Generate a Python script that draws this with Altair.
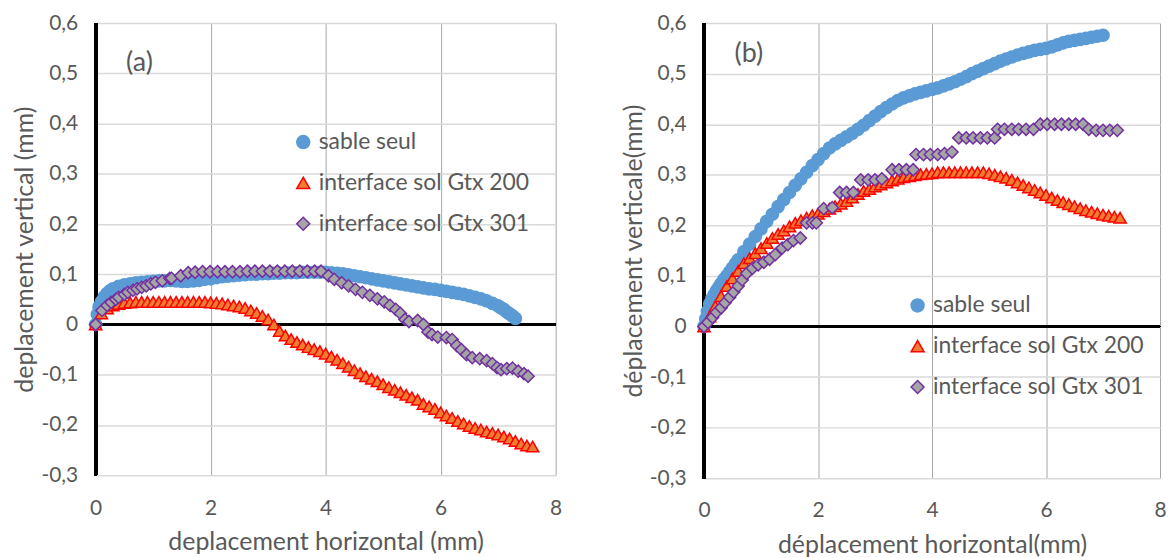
import altair as alt
import pandas as pd

SERIES = ["sable seul", "interface sol Gtx 200", "interface sol Gtx 301"]

# ---------------- Panel (a) ----------------
a_sable_x = [0, 0.03, 0.06, 0.1, 0.15, 0.2, 0.25, 0.3, 0.4, 0.5, 0.6, 0.7, 0.8, 0.9, 1.0, 1.1, 1.2, 1.3, 1.4, 1.5,
             1.6, 1.7, 1.8, 1.9, 2.0, 2.1, 2.2, 2.3, 2.4, 2.5, 2.6, 2.7, 2.8, 2.9, 3.0, 3.1, 3.2, 3.3, 3.4, 3.5,
             3.6, 3.7, 3.8, 3.9, 4.0, 4.1, 4.2, 4.3, 4.4, 4.5, 4.6, 4.7, 4.8, 4.9, 5.0, 5.1, 5.2, 5.3, 5.4, 5.5,
             5.6, 5.7, 5.8, 5.9, 6.0, 6.1, 6.2, 6.3, 6.4, 6.5, 6.6, 6.7, 6.8, 6.9, 7.0, 7.05, 7.1, 7.15, 7.2, 7.25, 7.3]
a_sable_y = [0, 0.02, 0.035, 0.045, 0.055, 0.062, 0.067, 0.071, 0.076, 0.079, 0.081, 0.083, 0.084, 0.085, 0.086,
             0.087, 0.087, 0.088, 0.087, 0.086, 0.086, 0.087, 0.088, 0.09, 0.091, 0.093, 0.095, 0.096, 0.097, 0.098,
             0.099, 0.1, 0.1, 0.101, 0.101, 0.102, 0.102, 0.103, 0.103, 0.103, 0.104, 0.104, 0.104, 0.104, 0.104,
             0.103, 0.102, 0.101, 0.099, 0.097, 0.095, 0.093, 0.091, 0.089, 0.087, 0.085, 0.083, 0.081, 0.079, 0.077,
             0.075, 0.073, 0.071, 0.07, 0.068, 0.066, 0.064, 0.062, 0.06, 0.057, 0.054, 0.051, 0.047, 0.042, 0.037,
             0.033, 0.03, 0.025, 0.021, 0.017, 0.012]

a_g200_x = [0, 0.1, 0.2, 0.3, 0.4, 0.5, 0.6, 0.7, 0.8, 0.9, 1.0, 1.1, 1.2, 1.3, 1.4, 1.5, 1.6, 1.7, 1.8, 1.9,
            2.0, 2.1, 2.2, 2.3, 2.4, 2.5, 2.6, 2.7, 2.8, 2.9, 3.0, 3.1, 3.2, 3.3, 3.4, 3.5, 3.6, 3.7, 3.8, 3.9,
            4.0, 4.1, 4.2, 4.3, 4.4, 4.5, 4.6, 4.7, 4.8, 4.9, 5.0, 5.1, 5.2, 5.3, 5.4, 5.5, 5.6, 5.7, 5.8, 5.9,
            6.0, 6.1, 6.2, 6.3, 6.4, 6.5, 6.6, 6.7, 6.8, 6.9, 7.0, 7.1, 7.2, 7.3, 7.4, 7.5, 7.6]
a_g200_y = [0, 0.022, 0.032, 0.038, 0.041, 0.043, 0.044, 0.045, 0.045, 0.045, 0.045, 0.045, 0.045, 0.045, 0.045,
            0.045, 0.045, 0.045, 0.045, 0.045, 0.044, 0.043, 0.042, 0.04, 0.038, 0.036, 0.033, 0.028, 0.023, 0.017,
            0.01, 0.0, -0.013, -0.022, -0.029, -0.035, -0.04, -0.045, -0.049, -0.053, -0.058, -0.064, -0.07, -0.077,
            -0.084, -0.091, -0.097, -0.103, -0.108, -0.113, -0.119, -0.125, -0.13, -0.135, -0.14, -0.145, -0.15,
            -0.158, -0.163, -0.168, -0.175, -0.181, -0.186, -0.192, -0.197, -0.202, -0.206, -0.209, -0.213, -0.216,
            -0.219, -0.223, -0.227, -0.232, -0.237, -0.241, -0.243]

a_g301_x = [0, 0.11, 0.2, 0.27, 0.35, 0.4, 0.5, 0.56, 0.65, 0.72, 0.8, 0.88, 0.96, 1.04, 1.16, 1.29, 1.32, 1.48,
            1.61, 1.73, 1.86, 1.99, 2.12, 2.25, 2.38, 2.51, 2.64, 2.77, 2.9, 3.03, 3.16, 3.29, 3.42, 3.55, 3.68,
            3.81, 3.92, 4.05, 4.15, 4.28, 4.4, 4.52, 4.64, 4.77, 4.9, 5.02, 5.12, 5.22, 5.3, 5.38, 5.45, 5.6, 5.7,
            5.78, 5.85, 5.95, 6.1, 6.2, 6.28, 6.36, 6.45, 6.55, 6.68, 6.8, 6.9, 6.98, 7.05, 7.15, 7.25, 7.35, 7.45,
            7.52]
a_g301_y = [0, 0.028, 0.038, 0.044, 0.05, 0.054, 0.06, 0.064, 0.068, 0.071, 0.074, 0.077, 0.081, 0.084, 0.087,
            0.092, 0.092, 0.097, 0.103, 0.104, 0.105, 0.105, 0.105, 0.105, 0.105, 0.105, 0.106, 0.106, 0.106, 0.106,
            0.106, 0.106, 0.106, 0.106, 0.106, 0.106, 0.106, 0.097, 0.09, 0.083, 0.077, 0.07, 0.064, 0.058, 0.051,
            0.045, 0.038, 0.03, 0.022, 0.01, 0.006, 0.008, 0.0, -0.015, -0.02, -0.025, -0.026, -0.03, -0.042, -0.05,
            -0.06, -0.066, -0.068, -0.072, -0.078, -0.086, -0.09, -0.088, -0.087, -0.093, -0.098, -0.103]

# ---------------- Panel (b) ----------------
b_sable_x = [0, 0.03, 0.06, 0.1, 0.14, 0.18, 0.22, 0.26, 0.3, 0.35, 0.4, 0.45, 0.5, 0.55, 0.6, 0.7, 0.8, 0.9, 1.0,
             1.1, 1.2, 1.3, 1.4, 1.5, 1.6, 1.7, 1.8, 1.9, 2.0, 2.1, 2.2, 2.3, 2.4, 2.5, 2.6, 2.7, 2.8, 2.9, 3.0,
             3.1, 3.2, 3.3, 3.4, 3.5, 3.6, 3.7, 3.8, 3.9, 4.0, 4.1, 4.2, 4.3, 4.4, 4.5, 4.6, 4.7, 4.8, 4.9, 5.0,
             5.1, 5.2, 5.3, 5.4, 5.5, 5.6, 5.7, 5.8, 5.9, 6.0, 6.1, 6.2, 6.3, 6.4, 6.5, 6.6, 6.7, 6.8, 6.9, 7.0]
b_sable_y = [0, 0.015, 0.03, 0.045, 0.055, 0.063, 0.071, 0.078, 0.085, 0.093, 0.1, 0.108, 0.116, 0.124, 0.132,
             0.148, 0.163, 0.178, 0.193, 0.208, 0.222, 0.237, 0.251, 0.265, 0.279, 0.292, 0.305, 0.318, 0.33, 0.342,
             0.353, 0.361, 0.368, 0.375, 0.382, 0.39, 0.398, 0.407, 0.416, 0.425, 0.433, 0.44, 0.447, 0.452, 0.456,
             0.46, 0.463, 0.466, 0.469, 0.472, 0.476, 0.48, 0.484, 0.489, 0.494, 0.5, 0.505, 0.51, 0.515, 0.52,
             0.525, 0.529, 0.533, 0.537, 0.54, 0.543, 0.546, 0.548, 0.55, 0.553, 0.557, 0.561, 0.564, 0.566, 0.568,
             0.57, 0.572, 0.574, 0.576]

b_g200_x = [0, 0.1, 0.2, 0.3, 0.4, 0.5, 0.6, 0.7, 0.8, 0.9, 1.0, 1.1, 1.2, 1.3, 1.4, 1.5, 1.6, 1.7, 1.8, 1.9,
            2.0, 2.1, 2.2, 2.3, 2.4, 2.5, 2.6, 2.7, 2.8, 2.9, 3.0, 3.1, 3.2, 3.3, 3.4, 3.5, 3.6, 3.7, 3.8, 3.9,
            4.0, 4.1, 4.2, 4.3, 4.4, 4.5, 4.6, 4.7, 4.8, 4.9, 5.0, 5.1, 5.2, 5.3, 5.4, 5.5, 5.6, 5.7, 5.8, 5.9,
            6.0, 6.1, 6.2, 6.3, 6.4, 6.5, 6.6, 6.7, 6.8, 6.9, 7.0, 7.1, 7.2, 7.3]
b_g200_y = [0, 0.02, 0.04, 0.06, 0.08, 0.095, 0.11, 0.125, 0.135, 0.145, 0.155, 0.165, 0.175, 0.183, 0.19, 0.198,
            0.205, 0.21, 0.215, 0.22, 0.223, 0.228, 0.233, 0.238, 0.243, 0.248, 0.255, 0.262, 0.268, 0.272, 0.277,
            0.281, 0.285, 0.289, 0.292, 0.295, 0.297, 0.299, 0.301, 0.302, 0.303, 0.305, 0.305, 0.305, 0.305, 0.305,
            0.305, 0.305, 0.305, 0.305, 0.303, 0.3, 0.297, 0.294, 0.29, 0.285, 0.28, 0.275, 0.27, 0.265, 0.26, 0.255,
            0.25, 0.246, 0.242, 0.238, 0.234, 0.23, 0.227, 0.224, 0.221, 0.219, 0.217, 0.215]

b_g301_x = [0, 0.07, 0.15, 0.22, 0.3, 0.37, 0.45, 0.52, 0.6, 0.67, 0.75, 0.85, 0.95, 1.05, 1.15, 1.25, 1.37, 1.47,
            1.57, 1.69, 1.8, 1.9, 1.97, 2.1, 2.25, 2.38, 2.5, 2.62, 2.75, 2.88, 3.0, 3.12, 3.3, 3.42, 3.55, 3.67,
            3.72, 3.85, 3.97, 4.1, 4.22, 4.35, 4.47, 4.6, 4.72, 4.85, 4.97, 5.1, 5.15, 5.27, 5.4, 5.52, 5.65, 5.78,
            5.9, 6.02, 6.15, 6.27, 6.4, 6.52, 6.65, 6.75, 6.88, 7.0, 7.12, 7.25]
b_g301_y = [0, 0.008, 0.018, 0.028, 0.037, 0.047, 0.058, 0.068, 0.08, 0.092, 0.105, 0.115, 0.122, 0.127, 0.133,
            0.142, 0.155, 0.162, 0.17, 0.175, 0.205, 0.205, 0.205, 0.233, 0.235, 0.265, 0.265, 0.265, 0.29, 0.29,
            0.29, 0.292, 0.31, 0.31, 0.31, 0.31, 0.34, 0.34, 0.34, 0.34, 0.342, 0.345, 0.373, 0.373, 0.373, 0.373,
            0.373, 0.373, 0.39, 0.39, 0.39, 0.39, 0.39, 0.39, 0.4, 0.4, 0.4, 0.4, 0.4, 0.4, 0.4, 0.39, 0.388, 0.388,
            0.388, 0.388]

X_TICKS = [0, 2, 4, 6, 8]
Y_TICKS = [-0.3, -0.2, -0.1, 0, 0.1, 0.2, 0.3, 0.4, 0.5, 0.6]

FONT = "Lato"
TXT = "#595959"
FILLS = ["#5B9BD5", "#ED7D31", "#A5A5A5"]
STROKES = ["#5B9BD5", "#FF0000", "#7030A0"]
SHAPES = ["circle", "triangle-up", "diamond"]


def frame(xs_list, ys_list):
    rows = []
    for name, xs, ys in zip(SERIES, xs_list, ys_list):
        for xv, yv in zip(xs, ys):
            rows.append({"series": name, "x": xv, "y": yv})
    return pd.DataFrame(rows)


def panel(df, xtitle, ytitle, tag, tag_xy, leg_xy, w, h):
    leg = alt.Legend(title=None, orient="none", legendX=leg_xy[0], legendY=leg_xy[1],
                     labelFont=FONT, labelFontSize=23, labelColor=TXT, labelLimit=0, symbolSize=170,
                     symbolStrokeWidth=1.5, rowPadding=17, labelOffset=4, padding=0)
    xenc = alt.X("x:Q", scale=alt.Scale(domain=[0, 8], nice=False, zero=False),
                 axis=alt.Axis(values=X_TICKS, title=xtitle, labelPadding=22, titlePadding=12, grid=True,
                               labelFlush=False, labelExpr="format(datum.value, 'd')"))
    yenc = alt.Y("y:Q", scale=alt.Scale(domain=[-0.3, 0.6], nice=False, zero=False),
                 axis=alt.Axis(values=Y_TICKS, title=ytitle, labelPadding=18, titlePadding=3, grid=True,
                               labelExpr="datum.value == 0 ? '0' : (datum.value < 0 ? '-' : '') + "
                                         "replace(format(abs(datum.value), '.1f'), '.', ',')"))
    pts = alt.Chart(df).mark_point(filled=True, opacity=1, fillOpacity=1, strokeOpacity=1,
                                   strokeWidth=1.5, size=150).encode(
        x=xenc, y=yenc,
        shape=alt.Shape("series:N", scale=alt.Scale(domain=SERIES, range=SHAPES), legend=leg),
        fill=alt.Fill("series:N", scale=alt.Scale(domain=SERIES, range=FILLS), legend=leg),
        stroke=alt.Stroke("series:N", scale=alt.Scale(domain=SERIES, range=STROKES), legend=leg),
    )
    hline = alt.Chart(df).mark_rule(color="black", strokeWidth=2.5).encode(y=alt.datum(0))
    vline = alt.Chart(df).mark_rule(color="black", strokeWidth=3).encode(x=alt.datum(0))
    label = alt.Chart(pd.DataFrame({"t": [tag]})).mark_text(
        font=FONT, fontSize=27, color=TXT, align="center", baseline="middle").encode(
        text="t:N", x=alt.value(tag_xy[0]), y=alt.value(tag_xy[1]))
    return alt.layer(hline, vline, pts, label).properties(width=w, height=h)


dfa = frame([a_sable_x, a_g200_x, a_g301_x], [a_sable_y, a_g200_y, a_g301_y])
dfb = frame([b_sable_x, b_g200_x, b_g301_x], [b_sable_y, b_g200_y, b_g301_y])

pa = panel(dfa, "deplacement horizontal (mm)", "deplacement vertical (mm)", "(a)", (44, 40), (197, 108), 462, 454)
pb = panel(dfb, "déplacement horizontal(mm)", "déplacement verticale(mm)", "(b)", (45, 31), (203, 272), 458, 457)

chart = alt.hconcat(pa, pb, spacing=59).resolve_scale(
    shape="independent", fill="independent", stroke="independent"
).resolve_legend(shape="independent", fill="independent", stroke="independent").properties(
    padding={"left": 5, "top": 3, "right": 0, "bottom": 0}
).configure_view(stroke=None).configure_axis(
    labelFont=FONT, titleFont=FONT, labelColor=TXT, titleColor=TXT, labelFontSize=21, titleFontSize=25,
    titleFontWeight="normal", ticks=False, domain=False
).configure_axisX(gridColor="#A6A6A6", gridWidth=1).configure_axisY(gridColor="#D9D9D9", gridWidth=1.5)

chart.save("out.html", embed_options={"renderer": "svg", "actions": False})
